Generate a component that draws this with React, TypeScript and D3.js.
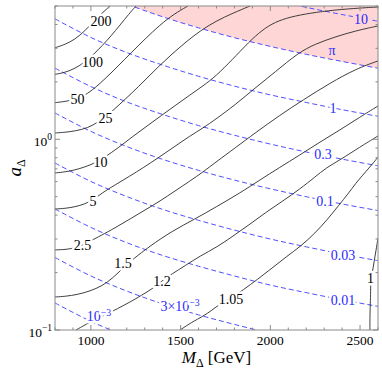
import React from 'react';
import * as d3 from 'd3';

// plot frame (pixels)
const W = 382, H = 374;
const left = 55, right = 378, top = 6, bottom = 330;

// axes
const mRange = [800, 2600];
const aRange = [0.1, 5];
const xMajor = [1000, 1500, 2000, 2500];
const xMinor = [800, 900, 1100, 1200, 1300, 1400, 1600, 1700, 1800, 1900, 2100, 2200, 2300, 2400, 2600];
const yMajor = [0.1, 1];
const yMajorLabels = ['\u22121', '0'];
const yMinor = [0.2, 0.3, 0.4, 0.5, 0.6, 0.7, 0.8, 0.9, 2, 3, 4, 5];

// black contours, [M, a]
const c200 = [[800,3.02],[856,3.14],[911,3.34],[967,3.70],[1017,4.17],[1062,4.59],[1107,5.0]];
const c100 = [[800,2.19],[856,2.24],[911,2.35],[967,2.54],[1017,2.80],[1062,3.09],[1112,3.48],[1162,3.97],[1212,4.54],[1251,5.0]];
const c50 = [[800,1.556],[856,1.578],[911,1.617],[967,1.698],[1023,1.859],[1084,2.096],[1151,2.42],[1224,2.84],[1302,3.36],[1385,3.98],[1463,4.54],[1541,5.0]];
const c25 = [[800,1.079],[856,1.088],[911,1.105],[984,1.146],[1040,1.232],[1095,1.34],[1162,1.531],[1229,1.749],[1302,2.046],[1374,2.394],[1452,2.80],[1530,3.24],[1608,3.70],[1697,4.17],[1792,4.59],[1887,5.0]];
const c10 = [[800,0.666],[856,0.674],[911,0.690],[967,0.716],[1023,0.751],[1079,0.808],[1151,0.900],[1229,1.028],[1313,1.174],[1396,1.34],[1474,1.513],[1552,1.708],[1625,1.904],[1697,2.147],[1786,2.605],[1881,3.24],[1954,3.74],[2026,4.12],[2110,4.38],[2221,4.59],[2360,4.77],[2500,4.88],[2600,4.94]];
const c5 = [[800,0.431],[856,0.434],[911,0.442],[967,0.458],[1012,0.481],[1062,0.523],[1134,0.576],[1218,0.642],[1290,0.708],[1374,0.798],[1463,0.911],[1552,1.041],[1625,1.146],[1697,1.277],[1803,1.513],[1915,1.858],[2026,2.25],[2154,2.835],[2249,3.16],[2360,3.44],[2472,3.70],[2600,3.93]];
const c2_5 = [[800,0.263],[856,0.264],[911,0.269],[956,0.279],[1006,0.296],[1051,0.311],[1134,0.343],[1218,0.382],[1302,0.426],[1385,0.474],[1469,0.536],[1552,0.604],[1625,0.674],[1697,0.760],[1803,0.900],[1915,1.079],[2054,1.34],[2182,1.607],[2333,1.973],[2477,2.34],[2600,2.575]];
const c1_5 = [[800,0.149],[856,0.150],[928,0.1535],[995,0.160],[1062,0.170],[1123,0.1875],[1179,0.2115],[1235,0.2355],[1329,0.2755],[1452,0.330],[1580,0.382],[1697,0.4415],[1831,0.523],[1942,0.612],[2048,0.708],[2165,0.828],[2277,0.968],[2388,1.119],[2500,1.309],[2600,1.495]];
const c1_2 = [[917,0.1],[995,0.110],[1079,0.120],[1146,0.129],[1218,0.140],[1285,0.1527],[1341,0.164],[1396,0.181],[1452,0.197],[1524,0.217],[1608,0.2445],[1703,0.272],[1792,0.311],[1881,0.3555],[1970,0.411],[2071,0.4755],[2165,0.549],[2249,0.634],[2310,0.708],[2388,0.779],[2500,0.912],[2600,1.041]];
const c1_05 = [[1497,0.1],[1563,0.110],[1625,0.118],[1675,0.127],[1719,0.137],[1781,0.147],[1848,0.162],[1931,0.185],[2009,0.211],[2087,0.2415],[2171,0.2755],[2249,0.322],[2321,0.382],[2383,0.453],[2433,0.517],[2477,0.590],[2516,0.650],[2550,0.708],[2578,0.760],[2600,0.807]];
const c1 = [[2600,0.303],[2589,0.262],[2578,0.227],[2569,0.2015],[2560,0.183],[2559,0.165],[2558,0.1437],[2555,0.120],[2555,0.1]];
const blackLines = [c200, c100, c50, c25, c10, c5, c2_5, c1_5, c1_2, c1_05, c1];

// blue dashed contours, [M, a]
const bMass = [800, 1000, 1200, 1400, 1600, 1800, 2000, 2200, 2400, 2600];
const b10 = [[2000,5.41],[2200,4.92],[2400,4.51],[2600,4.16]];
const bPi = [7.68, 6.14, 5.12, 4.39, 3.84, 3.41, 3.07, 2.79, 2.56, 2.36];
const b1 = [4.28, 3.42, 2.85, 2.45, 2.14, 1.90, 1.71, 1.56, 1.43, 1.32];
const b03 = [2.36, 1.89, 1.57, 1.35, 1.18, 1.05, 0.944, 0.858, 0.787, 0.726];
const b01 = [1.374, 1.10, 0.916, 0.785, 0.687, 0.611, 0.550, 0.500, 0.458, 0.423];
const b003 = [0.751, 0.601, 0.501, 0.429, 0.376, 0.334, 0.300, 0.273, 0.250, 0.231];
const b001 = [0.431, 0.345, 0.287, 0.246, 0.216, 0.192, 0.172, 0.157, 0.144, 0.133];
const b0003 = [0.240, 0.192, 0.160, 0.137, 0.120, 0.107, 0.096];
const b0001 = [0.1386, 0.111, 0.0924];
const toPts = (vals: number[]) => vals.map((a, i) => [bMass[i], a]);
const piLine = toPts(bPi);
const blueLines = [b10, piLine, toPts(b1), toPts(b03), toPts(b01), toPts(b003), toPts(b001), toPts(b0003), toPts(b0001)];

// contour labels: text, superscript, M, a, halo
const blackLabels = [
  ['200', '', 1056, 4.17], ['100', '', 1009, 2.54], ['50', '', 925, 1.627], ['25', '', 1081, 1.293],
  ['10', '', 1054, 0.760], ['5', '', 1012, 0.475], ['2.5', '', 953, 0.279], ['1.5', '', 1179, 0.2245],
  ['1.2', '', 1396, 0.181], ['1.05', '', 1781, 0.1455], ['1', '', 2558, 0.1875],
];
const blueLabels = [
  ['10', '', 2505, 4.27, 'pink'], ['\u03c0', '', 2344, 2.94, 'none'], ['1', '', 2349, 1.459, 'white'],
  ['0.3', '', 2294, 0.837, 'white'], ['0.1', '', 2305, 0.475, 'white'], ['0.03', '', 2405, 0.247, 'white'],
  ['0.01', '', 2405, 0.1437, 'white'], ['3\u00d710', '\u22123', 1497, 0.1336, 'white'], ['10', '\u22123', 1045, 0.1183, 'white'],
];

const PINK = '#ffd6d6';
const BLUE = '#5050ff';
const FRAME = '#8a8a8a';
const FONT = '"Liberation Serif", "DejaVu Serif", serif';

export default function App() {
  const x = d3.scaleLinear().domain(mRange).range([left, right]);
  const y = d3.scaleLog().domain(aRange).range([bottom, top]);
  // read-off contours are smoothed, blue ones interpolated
  const smooth = d3.line<number[]>().x(d => x(d[0])).y(d => y(d[1])).curve(d3.curveBasis);
  const line = d3.line<number[]>().x(d => x(d[0])).y(d => y(d[1])).curve(d3.curveCatmullRom.alpha(0.5));
  const area = d3.area<number[]>().x(d => x(d[0])).y0(y(aRange[1])).y1(d => y(d[1])).curve(d3.curveCatmullRom.alpha(0.5));

  const label = (l: any[], i: number, color: string, halo: string, size: number) => (
    <text key={i} x={x(l[2])} y={y(l[3]) + size * 0.34} textAnchor="middle" fontSize={size} fill={color}
      stroke={halo === 'none' ? 'none' : halo} strokeWidth={5} strokeLinejoin="round" paintOrder="stroke">
      {l[0]}{l[1] ? <tspan dy={-5} fontSize={size * 0.7}>{l[1]}</tspan> : null}
    </text>
  );

  return (
    <svg width={W} height={H} style={{ position: 'absolute', left: 0, top: 0, background: 'white' }} fontFamily={FONT}>
      <defs>
        <clipPath id="plotClip"><rect x={left} y={top} width={right - left} height={bottom - top} /></clipPath>
      </defs>
      <g clipPath="url(#plotClip)">
        <path d={area(piLine) || ''} fill={PINK} />
        {blueLines.map((pts, i) => (
          <path key={'b' + i} d={line(pts) || ''} fill="none" stroke={BLUE} strokeWidth={1} strokeDasharray="5,3" />
        ))}
        {blackLines.map((pts, i) => (
          <path key={'k' + i} d={smooth(pts) || ''} fill="none" stroke="#2a2a2a" strokeWidth={0.9} />
        ))}
        {blackLabels.map((l, i) => label(l, i, '#000', 'white', 14))}
        {blueLabels.map((l, i) => label(l, 100 + i, '#2a2aff', l[4] === 'pink' ? PINK : (l[4] as string), 14))}
      </g>

      {/* ticks */}
      <g stroke={FRAME} strokeWidth={1}>
        {[...xMajor, ...xMinor].map((m, i) => {
          const len = xMajor.includes(m) ? 5 : 2.5;
          return (
            <g key={'xt' + i}>
              <line x1={x(m)} x2={x(m)} y1={bottom} y2={bottom - len} />
              <line x1={x(m)} x2={x(m)} y1={top} y2={top + len} />
            </g>
          );
        })}
        {[...yMajor, ...yMinor].map((a, i) => {
          const len = yMajor.includes(a) ? 5 : 2.5;
          return (
            <g key={'yt' + i}>
              <line x1={left} x2={left + len} y1={y(a)} y2={y(a)} />
              <line x1={right} x2={right - len} y1={y(a)} y2={y(a)} />
            </g>
          );
        })}
      </g>
      <rect x={left} y={top} width={right - left} height={bottom - top} fill="none" stroke={FRAME} strokeWidth={1} />

      {/* tick labels */}
      {xMajor.map(m => (
        <text key={'xl' + m} x={x(m)} y={345} textAnchor="middle" fontSize={13.5} fill="#000">{m}</text>
      ))}
      {yMajor.map((a, i) => (
        <text key={'yl' + a} x={52} y={y(a) + 7} textAnchor="end" fontSize={13.5} fill="#000">
          10<tspan dy={-6} fontSize={9.5}>{yMajorLabels[i]}</tspan>
        </text>
      ))}

      {/* axis titles */}
      <text x={(left + right) / 2} y={363} textAnchor="middle" fontSize={17} fill="#000">
        <tspan fontStyle="italic">M</tspan><tspan dy={4} fontSize={12}>{'\u0394'}</tspan><tspan dy={-4}> [GeV]</tspan>
      </text>
      <text transform={`translate(21,${(top + bottom) / 2}) rotate(-90)`} textAnchor="middle" fontSize={19} fill="#000">
        <tspan fontStyle="italic">a</tspan><tspan dy={4} fontSize={12}>{'\u0394'}</tspan>
      </text>
    </svg>
  );
}
